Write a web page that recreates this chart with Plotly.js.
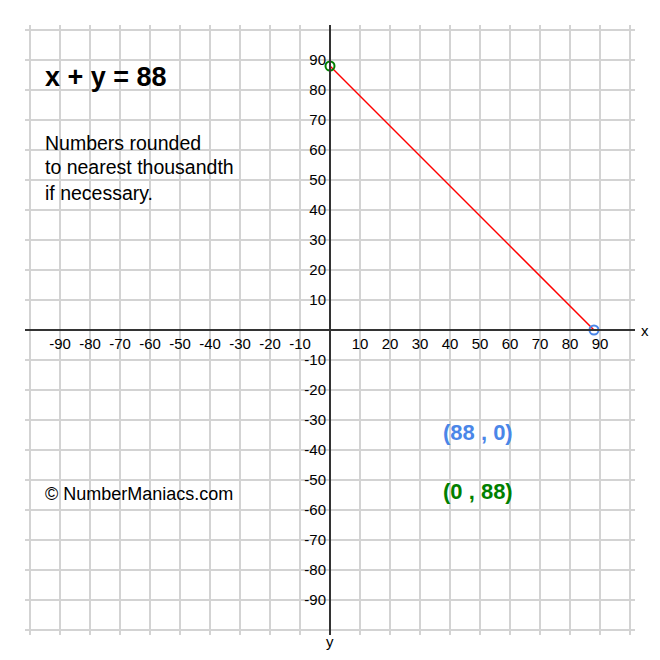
<!DOCTYPE html>
<html>
<head>
<meta charset="utf-8">
<script src="https://cdn.plot.ly/plotly-3.0.1.min.js"></script>
<style>
  html, body { margin: 0; padding: 0; background: white; }
  #graph { width: 660px; height: 660px; }
</style>
</head>
<body>
<div id="graph"></div>
<script>
// line x + y = 88 and its two intercepts
var lineX = [0, 88];
var lineY = [88, 0];
var xIntercept = [88, 0];
var yIntercept = [0, 88];
var tickVals = [-90, -80, -70, -60, -50, -40, -30, -20, -10, 10, 20, 30, 40, 50, 60, 70, 80, 90];
var tickText = tickVals.map(String);

var gridColor = "#d3d3d3";
var axisColor = "#333333";
var blue = "#4a86e8";
var green = "#008000";
var font = "Liberation Sans, Arial, sans-serif";
var span = [-101.67, 101.67];

function createGraph() {
  const graph = document.querySelector('#graph');

  var line = {
    x: lineX, y: lineY,
    xaxis: 'x2', yaxis: 'y2',
    mode: 'lines',
    line: { color: '#ff0000', width: 1.5 },
    hoverinfo: 'skip'
  };
  var ptX = {
    x: [xIntercept[0]], y: [xIntercept[1]],
    xaxis: 'x2', yaxis: 'y2',
    mode: 'markers',
    marker: { size: 9, color: 'rgba(0,0,0,0)', line: { color: blue, width: 2 } }
  };
  var ptY = {
    x: [yIntercept[0]], y: [yIntercept[1]],
    xaxis: 'x2', yaxis: 'y2',
    mode: 'markers',
    marker: { size: 9, color: 'rgba(0,0,0,0)', line: { color: green, width: 2 } }
  };

  var txt = function (x, y, t, size, color, bold) {
    return {
      xref: 'x', yref: 'y', x: x, y: y, text: bold ? '<b>' + t + '</b>' : t,
      showarrow: false, xanchor: 'left', yanchor: 'middle',
      font: { family: font, size: size, color: color }
    };
  };

  var layout = {
    width: 660, height: 660,
    margin: { l: 25, r: 25, t: 25, b: 25 },
    showlegend: false,
    paper_bgcolor: 'white',
    plot_bgcolor: 'white',
    xaxis: {
      range: span, dtick: 10, tick0: 0,
      showgrid: true, gridcolor: gridColor, gridwidth: 1.5,
      zeroline: false, showticklabels: false, showline: false, fixedrange: true
    },
    yaxis: {
      range: span, dtick: 10, tick0: 0,
      showgrid: true, gridcolor: gridColor, gridwidth: 1.5,
      zeroline: false, showticklabels: false, showline: false, fixedrange: true
    },
    xaxis2: {
      overlaying: 'x', anchor: 'free', position: 0.5, range: span,
      tickvals: tickVals, ticktext: tickText, ticks: '', showgrid: false, zeroline: false,
      showline: true, linecolor: axisColor, linewidth: 2,
      tickfont: { family: font, size: 15, color: 'black' }
    },
    yaxis2: {
      overlaying: 'y', anchor: 'free', position: 0.5, range: span,
      tickvals: tickVals, ticktext: tickText, ticks: '', showgrid: false, zeroline: false,
      showline: true, linecolor: axisColor, linewidth: 2,
      tickfont: { family: font, size: 15, color: 'black' }
    },
    annotations: [
      txt(-95.7, 84.5, 'x + y = 88', 27, 'black', true),
      txt(-95.7, 62.5, 'Numbers rounded', 19.5, 'black', false),
      txt(-95.7, 54.2, 'to nearest thousandth', 19.5, 'black', false),
      txt(-95.7, 45.8, 'if necessary.', 19.5, 'black', false),
      txt(-95.7, -54.7, '© NumberManiacs.com', 18, 'black', false),
      txt(37, -34.3, '(88 , 0)', 22, blue, true),
      txt(37, -54, '(0 , 88)', 22, green, true),
      { xref: 'paper', yref: 'paper', x: 1.016, y: 0.5, text: 'x', showarrow: false,
        xanchor: 'center', yanchor: 'middle', font: { family: font, size: 15, color: 'black' } },
      { xref: 'paper', yref: 'paper', x: 0.5, y: -0.011, text: 'y', showarrow: false,
        xanchor: 'center', yanchor: 'middle', font: { family: font, size: 15, color: 'black' } }
    ]
  };

  Plotly.newPlot(graph, [line, ptX, ptY], layout, { displayModeBar: false, staticPlot: true });
}
createGraph();
</script>
</body>
</html>
